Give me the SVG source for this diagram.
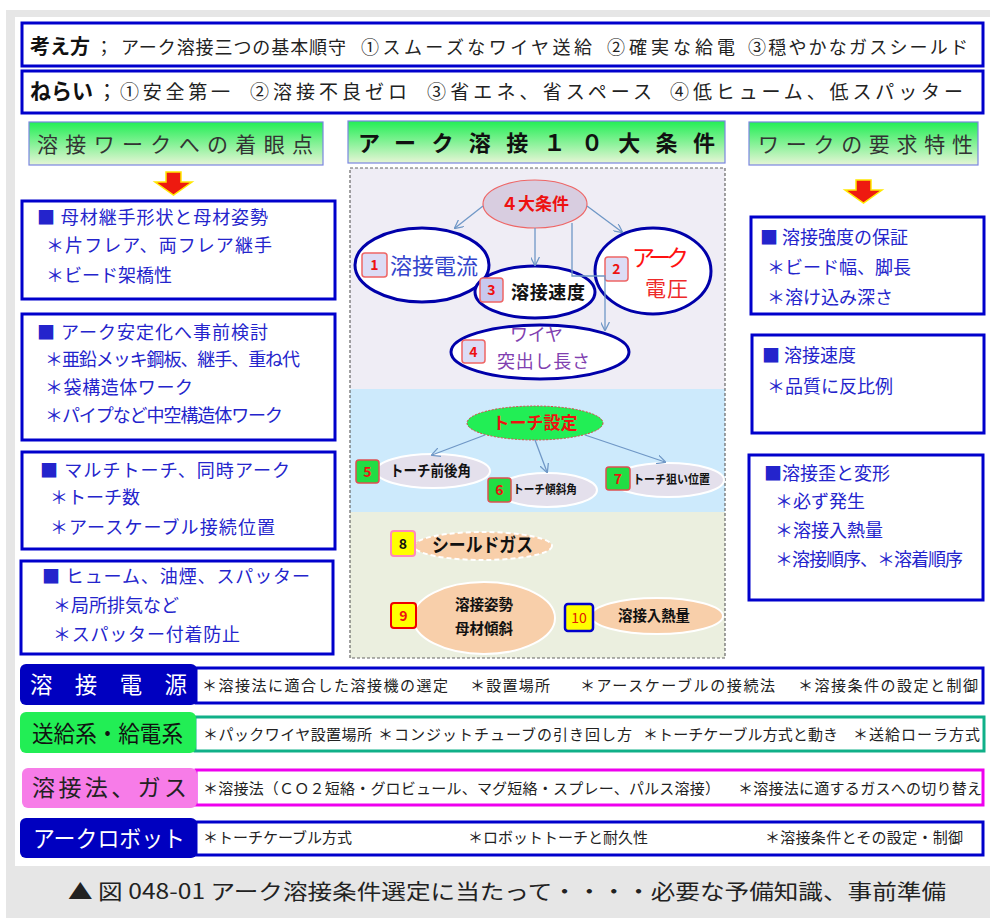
<svg xmlns="http://www.w3.org/2000/svg" width="990" height="918" viewBox="0 0 990 918">
<defs>
<linearGradient id="gh" x1="0" y1="0" x2="0" y2="1"><stop offset="0" stop-color="#22ee55"/><stop offset="1" stop-color="#e6f5d6"/></linearGradient>
<marker id="ah" viewBox="0 0 10 10" refX="9" refY="5" markerWidth="9" markerHeight="9" orient="auto" markerUnits="userSpaceOnUse"><path d="M0,0 L10,5 L0,10" fill="none" stroke="#6f97c6" stroke-width="1.4"/></marker>
<style>
text{font-family:"Noto Sans CJK JP","Noto Sans",sans-serif}
.box{fill:#fff;stroke:#0000cc;stroke-width:3}
.bt{fill:#2424cc;font-size:18px}
.hd{fill:url(#gh);stroke:#7a86e0;stroke-width:1.2}
.hdt{fill:#333;font-size:21px}
.conn{fill:none;stroke:#6f97c6;stroke-width:1.3}
.ra{fill:#ee1a10;stroke:#ffe800;stroke-width:1.5}
.eb{fill:#fff;stroke:#0000aa;stroke-width:3}
.et{fill:#e4e0ec;stroke:#fff;stroke-width:2}
.ep{fill:#f8cfaa;stroke:#fff;stroke-width:2}
.bd{font-size:14px;font-weight:700;text-anchor:middle}
.bk{fill:#111;font-weight:700}
.lt{font-size:23px}
.ct{fill:#222;font-size:15px}
</style>
</defs>
<rect x="0" y="0" width="990" height="918" fill="#fff"/>
<rect x="6" y="10" width="984" height="908" fill="#e6e6e6"/>
<rect x="15" y="17" width="975" height="849" fill="#fff"/>

<g id="row-kangaekata">
<rect class="box" x="22" y="23" width="961" height="43"/>
<text x="30" y="54" font-size="20" font-weight="700" fill="#111" textLength="60" lengthAdjust="spacingAndGlyphs">考え方</text>
<text x="95" y="54" font-size="18" fill="#222">；</text>
<text x="121" y="54" font-size="18" fill="#222" textLength="225">アーク溶接三つの基本順守</text>
<text x="361" y="54" font-size="18" fill="#222" textLength="231">①スムーズなワイヤ送給</text>
<text x="607" y="54" font-size="18" fill="#222" textLength="128">②確実な給電</text>
<text x="748" y="54" font-size="18" fill="#222" textLength="220">③穏やかなガスシールド</text>
</g>
<g id="row-nerai">
<rect class="box" x="22" y="71" width="961" height="42"/>
<text x="30" y="99" font-size="22" font-weight="700" fill="#111" textLength="63" lengthAdjust="spacingAndGlyphs">ねらい</text>
<text x="97" y="99" font-size="20" fill="#222">；</text>
<text x="120" y="99" font-size="19" fill="#222" textLength="110">①安全第一</text>
<text x="250" y="99" font-size="19" fill="#222" textLength="157">②溶接不良ゼロ</text>
<text x="427" y="99" font-size="19" fill="#222" textLength="225">③省エネ、省スペース</text>
<text x="670" y="99" font-size="19" fill="#222" textLength="293">④低ヒューム、低スパッター</text>
</g>

<g id="left-header">
<rect class="hd" x="29" y="122" width="294" height="43"/>
<text class="hdt" x="37" y="152" textLength="276">溶接ワークへの着眼点</text>
<polygon class="ra" points="166,172 181,172 181,182 192,182 173.5,195 155,182 166,182"/>
</g>
<g id="left-1">
<rect class="box" x="22" y="201" width="313" height="98"/>
<text class="bt" x="37" y="224" textLength="231">■ 母材継手形状と母材姿勢</text>
<text class="bt" x="46" y="252" textLength="226">＊片フレア、両フレア継手</text>
<text class="bt" x="46" y="282">＊ビード架橋性</text>
</g>
<g id="left-2">
<rect class="box" x="22" y="314" width="313" height="126"/>
<text class="bt" x="37" y="339" textLength="231">■ アーク安定化へ事前検討</text>
<text class="bt" x="45" y="366" font-size="17" textLength="255">＊亜鉛メッキ鋼板、継手、重ね代</text>
<text class="bt" x="45" y="394" textLength="148">＊袋構造体ワーク</text>
<text class="bt" x="45" y="422" textLength="238">＊パイプなど中空構造体ワーク</text>
</g>
<g id="left-3">
<rect class="box" x="22" y="452" width="313" height="97"/>
<text class="bt" x="40" y="477" textLength="250">■ マルチトーチ、同時アーク</text>
<text class="bt" x="50" y="504">＊トーチ数</text>
<text class="bt" x="50" y="534" textLength="225">＊アースケーブル接続位置</text>
</g>
<g id="left-4">
<rect class="box" x="21" y="561" width="312" height="93"/>
<text class="bt" x="42" y="583" textLength="268">■ ヒューム、油煙、スパッター</text>
<text class="bt" x="53" y="612">＊局所排気など</text>
<text class="bt" x="53" y="641" textLength="187">＊スパッター付着防止</text>
</g>

<g id="center-header">
<rect class="hd" x="348" y="121" width="377" height="42"/>
<text x="358" y="151" font-size="22" font-weight="700" fill="#111" textLength="357">アーク溶接１０大条件</text>
</g>
<g id="center-panel">
<rect x="350" y="168" width="375" height="221" fill="#efedf5"/>
<rect x="350" y="389" width="375" height="123" fill="#cdeafc"/>
<rect x="350" y="512" width="375" height="146" fill="#ebefdf"/>
<rect x="350" y="168" width="375" height="490" fill="none" stroke="#666" stroke-width="1.2" stroke-dasharray="3,2"/>
</g>

<g id="n-4taijoken">
<ellipse cx="535" cy="204" rx="52" ry="24" fill="#d8cde0" stroke="#ee6666" stroke-width="1.2"/>
<text x="535" y="210" font-size="17" font-weight="700" fill="#ee1111" text-anchor="middle">４大条件</text>
</g>
<g id="n-1">
<ellipse class="eb" cx="422" cy="265" rx="67" ry="37"/>
<rect x="362" y="253" width="25" height="24" rx="3" fill="#dcdcf5" stroke="#ee6666" stroke-width="1.5"/>
<text class="bd" x="374.5" y="270" fill="#ee1111">1</text>
<text x="390" y="274" font-size="22" fill="#3344cc" textLength="88">溶接電流</text>
</g>
<g id="n-2">
<ellipse class="eb" cx="653" cy="271" rx="58" ry="43"/>
<rect x="605" y="257" width="23" height="24" rx="3" fill="#dcdcf5" stroke="#ee6666" stroke-width="1.5"/>
<text class="bd" x="616.5" y="274" fill="#ee1111">2</text>
<text x="632" y="266" font-size="23" fill="#ff1111" textLength="57">アーク</text>
<text x="645" y="296" font-size="21" fill="#ee2a2a" textLength="43">電圧</text>
</g>
<g id="n-3">
<ellipse class="eb" cx="535" cy="292" rx="60" ry="26"/>
<rect x="480" y="278" width="23" height="24" rx="3" fill="#c8c8ee" stroke="#ee6666" stroke-width="1.5"/>
<text class="bd" x="491.5" y="295" fill="#ee1111">3</text>
<text x="511" y="299" font-size="18" font-weight="700" fill="#111" textLength="74">溶接速度</text>
</g>
<g id="n-4">
<ellipse class="eb" cx="540" cy="352" rx="89" ry="27"/>
<rect x="462" y="340" width="23" height="23" rx="3" fill="#dcdcf5" stroke="#ee6666" stroke-width="1.5"/>
<text class="bd" x="473.5" y="357" fill="#ee1111">4</text>
<text x="510" y="341" font-size="18" fill="#8040b0" textLength="53">ワイヤ</text>
<text x="497" y="368" font-size="18" fill="#8040b0" textLength="93">突出し長さ</text>
</g>

<g id="n-torch">
<ellipse cx="535" cy="423" rx="68" ry="17" fill="#22ee55" stroke="#dd4444" stroke-width="1" stroke-dasharray="2,1.5"/>
<text x="535" y="429" font-size="17" font-weight="700" fill="#ee1111" text-anchor="middle">トーチ設定</text>
</g>
<g id="n-5">
<ellipse class="et" cx="433" cy="471" rx="57" ry="17"/>
<rect x="356" y="460" width="23" height="23" rx="3" fill="#22dd44" stroke="#dd5050" stroke-width="1.5"/>
<text class="bd" x="367.5" y="477" fill="#ee1111">5</text>
<text x="390" y="476" font-size="15" class="bk" textLength="81" lengthAdjust="spacingAndGlyphs">トーチ前後角</text>
</g>
<g id="n-6">
<ellipse class="et" cx="547" cy="490" rx="50" ry="17"/>
<rect x="488" y="478" width="23" height="24" rx="3" fill="#22dd44" stroke="#dd5050" stroke-width="1.5"/>
<text class="bd" x="499.5" y="495" fill="#ee1111">6</text>
<text x="513" y="494" font-size="12" class="bk" textLength="64" lengthAdjust="spacingAndGlyphs">トーチ傾斜角</text>
</g>
<g id="n-7">
<ellipse class="et" cx="668" cy="480" rx="56" ry="17"/>
<rect x="606" y="467" width="24" height="23" rx="3" fill="#22dd44" stroke="#dd5050" stroke-width="1.5"/>
<text class="bd" x="618" y="484" fill="#ee1111">7</text>
<text x="633" y="484" font-size="12.5" class="bk" textLength="77" lengthAdjust="spacingAndGlyphs">トーチ狙い位置</text>
</g>
<g id="n-8">
<ellipse cx="483" cy="546" rx="69" ry="14" fill="#f8cfaa" stroke="#fff" stroke-width="2" stroke-dasharray="5,3"/>
<rect x="391" y="531" width="24" height="25" rx="3" fill="#ffff00" stroke="#ff88bb" stroke-width="2"/>
<text class="bd" x="403" y="549" fill="#111">8</text>
<text x="432" y="552" font-size="19" class="bk" textLength="101" lengthAdjust="spacingAndGlyphs">シールドガス</text>
</g>
<g id="n-9">
<ellipse class="ep" cx="484" cy="618" rx="71" ry="36"/>
<rect x="391" y="603" width="25" height="25" rx="3" fill="#ffff00" stroke="#ee0000" stroke-width="2"/>
<text class="bd" x="403.5" y="621" fill="#ee1111">9</text>
<text x="455" y="610" font-size="14.5" class="bk" textLength="58">溶接姿勢</text>
<text x="455" y="634" font-size="14.5" class="bk" textLength="58">母材傾斜</text>
</g>
<g id="n-10">
<ellipse class="ep" cx="657" cy="616" rx="66" ry="18"/>
<rect x="565" y="604" width="28" height="27" rx="3" fill="#ffff00" stroke="#0000cc" stroke-width="2.5"/>
<text x="579" y="623" font-size="14" fill="#e02000" text-anchor="middle">10</text>
<text x="618" y="621" font-size="15" class="bk" textLength="72" lengthAdjust="spacingAndGlyphs">溶接入熱量</text>
</g>

<g id="connectors">
<path class="conn" d="M483,206 L455,228" marker-end="url(#ah)"/>
<path class="conn" d="M587,206 L622,232" marker-end="url(#ah)"/>
<path class="conn" d="M535,228 L535,265" marker-end="url(#ah)"/>
<path class="conn" d="M572,223 L572,276 L605,276 L605,330" marker-end="url(#ah)"/>
<path class="conn" d="M485,435 L432,455" marker-end="url(#ah)"/>
<path class="conn" d="M535,440 L547,472" marker-end="url(#ah)"/>
<path class="conn" d="M585,435 L665,462" marker-end="url(#ah)"/>
</g>

<g id="right-header">
<rect class="hd" x="749" y="122" width="229" height="43"/>
<text class="hdt" x="758" y="152" textLength="215">ワークの要求特性</text>
<polygon class="ra" points="856,180 871,180 871,190 882,190 863.5,203 845,190 856,190"/>
</g>
<g id="right-1">
<rect class="box" x="751" y="217" width="233" height="97"/>
<text class="bt" x="760" y="244">■ 溶接強度の保証</text>
<text class="bt" x="767" y="274">＊ビード幅、脚長</text>
<text class="bt" x="767" y="304">＊溶け込み深さ</text>
</g>
<g id="right-2">
<rect class="box" x="752" y="335" width="232" height="98"/>
<text class="bt" x="762" y="362">■ 溶接速度</text>
<text class="bt" x="767" y="393">＊品質に反比例</text>
</g>
<g id="right-3">
<rect class="box" x="749" y="455" width="234" height="145"/>
<text class="bt" x="764" y="480">■溶接歪と変形</text>
<text class="bt" x="775" y="508">＊必ず発生</text>
<text class="bt" x="775" y="537">＊溶接入熱量</text>
<text class="bt" x="775" y="566" font-size="16" textLength="188">＊溶接順序、＊溶着順序</text>
</g>

<g id="bar-dengen">
<rect class="box" x="196" y="668" width="787" height="35"/>
<rect x="20" y="664" width="177" height="41" rx="6" fill="#0000c0"/>
<text class="lt" x="30" y="693" fill="#fff" textLength="157" lengthAdjust="spacingAndGlyphs">溶　接　電　源</text>
<text class="ct" x="202" y="691" font-size="16" textLength="246">＊溶接法に適合した溶接機の選定</text>
<text class="ct" x="470" y="691" font-size="16" textLength="80">＊設置場所</text>
<text class="ct" x="580" y="691" font-size="16" textLength="195">＊アースケーブルの接続法</text>
<text class="ct" x="798" y="691" font-size="16" textLength="180">＊溶接条件の設定と制御</text>
</g>
<g id="bar-sokyu">
<rect x="195" y="717" width="789" height="34" fill="#fff" stroke="#10b088" stroke-width="3"/>
<rect x="20" y="712" width="176" height="41" rx="6" fill="#22ee55"/>
<text class="lt" x="32" y="742" fill="#111" textLength="151" lengthAdjust="spacingAndGlyphs">送給系・給電系</text>
<text class="ct" x="203" y="740" textLength="169">＊パックワイヤ設置場所</text>
<text class="ct" x="378" y="740" textLength="254">＊コンジットチューブの引き回し方</text>
<text class="ct" x="643" y="740" textLength="195">＊トーチケーブル方式と動き</text>
<text class="ct" x="853" y="740" textLength="127">＊送給ローラ方式</text>
</g>
<g id="bar-gas">
<rect x="196" y="770" width="787" height="35" fill="#fff" stroke="#ee00ee" stroke-width="3"/>
<rect x="22" y="768" width="175" height="40" rx="6" fill="#f77ce8"/>
<text class="lt" x="32" y="796" fill="#222" textLength="155">溶接法、ガス</text>
<text class="ct" x="203" y="794" font-size="14.5" textLength="517">＊溶接法（ＣＯ２短絡・グロビュール、マグ短絡・スプレー、パルス溶接）</text>
<text class="ct" x="738" y="794" font-size="14.5" textLength="244">＊溶接法に適するガスへの切り替え</text>
</g>
<g id="bar-robot">
<rect class="box" x="196" y="822" width="787" height="33"/>
<rect x="20" y="818" width="177" height="40" rx="6" fill="#0000c0"/>
<text class="lt" x="33" y="847" fill="#fff" textLength="152" lengthAdjust="spacingAndGlyphs">アークロボット</text>
<text class="ct" x="203" y="843">＊トーチケーブル方式</text>
<text class="ct" x="468" y="843">＊ロボットトーチと耐久性</text>
<text class="ct" x="765" y="843" textLength="198">＊溶接条件とその設定・制御</text>
</g>

<text x="68" y="899" font-size="21" fill="#222" textLength="878" lengthAdjust="spacingAndGlyphs">▲ 図 048-01 アーク溶接条件選定に当たって・・・・必要な予備知識、事前準備</text>
</svg>
